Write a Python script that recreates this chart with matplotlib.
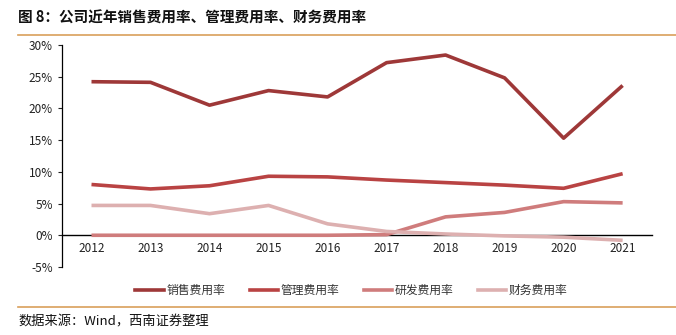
import matplotlib
matplotlib.use("Agg")
import matplotlib.pyplot as plt
from matplotlib.lines import Line2D
from matplotlib.ticker import FuncFormatter

plt.rcParams['font.family'] = ['Noto Sans CJK SC', 'DejaVu Sans']

years = [2012, 2013, 2014, 2015, 2016, 2017, 2018, 2019, 2020, 2021]
sales = [24.2, 24.1, 20.5, 22.8, 21.8, 27.2, 28.4, 24.8, 15.3, 23.6]
admin = [8.0, 7.3, 7.8, 9.3, 9.2, 8.7, 8.3, 7.9, 7.4, 9.7]
rnd = [0.0, 0.0, 0.0, 0.0, 0.0, 0.1, 2.9, 3.6, 5.3, 5.1]
fin = [4.7, 4.7, 3.4, 4.7, 1.8, 0.6, 0.2, -0.1, -0.3, -0.8]
names = ['销售费用率', '管理费用率', '研发费用率', '财务费用率']
colors = ['#9E3838', '#B94343', '#CF7C7C', '#DDB0B0']
yticks = [-5, 0, 5, 10, 15, 20, 25, 30]

fig = plt.figure(figsize=(6.76, 3.35), dpi=100)
ax = fig.add_axes([0.0917, 0.203, 0.873, 0.663])

series = [sales, admin, rnd, fin]
for vals, c, n in zip(series, colors, names):
    ax.plot(years, vals, color=c, lw=2.6, label=n, solid_capstyle='butt')

ax.set_xlim(2011.5, 2021.5)
ax.set_ylim(-5, 30)
ax.set_yticks(yticks)
ax.yaxis.set_major_formatter(FuncFormatter(lambda v, p: f"{int(v)}%"))
ax.set_xticks(years)
ax.spines['bottom'].set_position(('data', 0))
ax.spines['bottom'].set_color('black')
ax.spines['bottom'].set_linewidth(1.0)
ax.spines['bottom'].set_zorder(0.5)
ax.tick_params(axis='x', length=0, pad=5, labelsize=8.5, colors='#222222')
ax.tick_params(axis='y', length=3, labelsize=8.5, colors='#222222', direction='out')
for s in ['top', 'right']:
    ax.spines[s].set_visible(False)
ax.spines['left'].set_color('black')
ax.spines['left'].set_linewidth(0.9)

handles = [Line2D([0], [0], color=c, lw=2.6) for c in colors]
fig.legend(handles, names, loc='center', bbox_to_anchor=(0.52, 0.133), ncol=4,
           frameon=False, fontsize=8.5, handlelength=2.4, handletextpad=0.2,
           columnspacing=2.1, labelcolor='#333333')

# title and rules
fig.text(0.027, 0.948, '图 8：公司近年销售费用率、管理费用率、财务费用率', fontsize=10.5,
         fontweight='bold', va='center', ha='left', color='#111111')
fig.add_artist(Line2D([0.027, 1.0], [0.895, 0.895], color='#D9A05B', lw=1.2, transform=fig.transFigure))
fig.add_artist(Line2D([0.027, 1.0], [0.083, 0.083], color='#D9A05B', lw=1.2, transform=fig.transFigure))
fig.text(0.027, 0.038, '数据来源：Wind，西南证券整理', fontsize=9.5, style='italic',
         va='center', ha='left', color='#111111')

fig.savefig('out.png', dpi=100)
